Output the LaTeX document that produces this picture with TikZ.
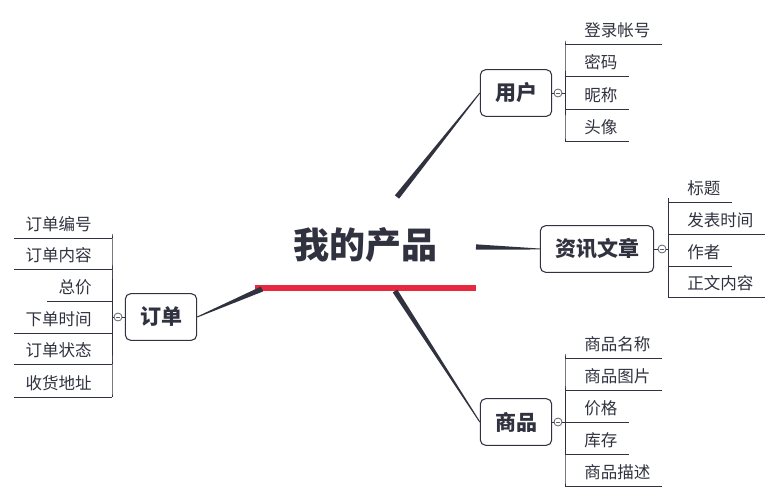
\documentclass[tikz,border=0pt]{standalone}
\usepackage{fontspec}
\setmainfont{Noto Sans CJK SC}
\usetikzlibrary{calc}

\definecolor{ink}{HTML}{30323F}
\definecolor{barred}{HTML}{E8283F}
\definecolor{knobgray}{HTML}{5E606A}

\tikzset{
  topic/.style={draw=ink, line width=0.8pt, rounded corners=4pt, fill=white, text=ink,
    font=\fontsize{15.75}{18}\selectfont\bfseries, minimum height=35pt, inner xsep=11pt},
  leaf/.style={text=ink, font=\fontsize{12.4}{14}\selectfont, inner sep=0pt},
  leafline/.style={draw=ink, line width=0.75pt},
  knob/.style={circle, draw=knobgray, line width=0.6pt, fill=white, minimum size=6pt, inner sep=0pt,
    path picture={\draw[knobgray, line width=0.6pt]
      ([xshift=-1.4pt]path picture bounding box.center) -- ([xshift=1.4pt]path picture bounding box.center);}},
}

% tapered main branch: thick at the centre, thin at the topic
\newcommand{\branchline}[2]{%
  \fill[ink] ($(#1)!2pt!90:(#2)$) -- ($(#2)!0.35pt!-90:(#1)$)
    -- ($(#2)!0.35pt!90:(#1)$) -- ($(#1)!2pt!-90:(#2)$) -- cycle;}

\begin{document}
\begin{tikzpicture}[x=0.75pt, y=-0.75pt]
  \useasboundingbox (0,0) rectangle (781,503);

  % ---------------- central topic ----------------
  \node[text=ink, font=\fontsize{27}{30}\selectfont\bfseries, inner sep=0pt] (prod) at (365,245) {我的产品};
  \fill[barred] (255,285) rectangle (476,291);

  % ---------------- main topics ----------------
  \node[topic] (user)  at (516,93)  {用户};
  \node[topic] (news)  at (597,249) {资讯文章};
  \node[topic] (goods) at (516,422) {商品};
  \node[topic] (order) at (161,317) {订单};

  \coordinate (s-user)  at (397,197);
  \coordinate (s-news)  at (476,247);
  \coordinate (s-goods) at (395,291);
  \coordinate (s-order) at (262,289);
  \branchline{s-user}{user.west}
  \branchline{s-news}{news.west}
  \branchline{s-goods}{goods.west}
  \branchline{s-order}{order.east}

  % collapse knobs
  \node[knob] (user-k)  at (558,93)  {};
  \node[knob] (news-k)  at (662,249) {};
  \node[knob] (goods-k) at (558,422) {};
  \node[knob] (order-k) at (118,317) {};
  \coordinate (user-j)  at (565,93);
  \coordinate (news-j)  at (668,249);
  \coordinate (goods-j) at (565,422);
  \coordinate (order-j) at (112,317);
  \foreach \b in {user, news, goods, order} {
    \draw[leafline] (\b) -- (\b-k);
    \draw[leafline] (\b-k) -- (\b-j);
  }

  % ---------------- 用户 ----------------
  \foreach \t/\y [count=\i] in {登录帐号/45, 密码/77, 昵称/109, 头像/141} {
    \coordinate (user-\i) at (565,\y);
    \node[leaf, anchor=base west] (user-t\i) at (584,\y-8) {\t};
    \draw[leafline] (user-\i) -- ([xshift=8.25pt]user-\i -| user-t\i.east);
    \draw[leafline, rounded corners=3pt] (user-j) |- (user-\i);
  }

  % ---------------- 资讯文章 ----------------
  \foreach \t/\y [count=\i] in {标题/202, 发表时间/234, 作者/266, 正文内容/297} {
    \coordinate (news-\i) at (668,\y);
    \node[leaf, anchor=base west] (news-t\i) at (687,\y-8) {\t};
    \draw[leafline] (news-\i) -- ([xshift=8.25pt]news-\i -| news-t\i.east);
    \draw[leafline, rounded corners=3pt] (news-j) |- (news-\i);
  }

  % ---------------- 商品 ----------------
  \foreach \t/\y [count=\i] in {商品名称/358, 商品图片/390, 价格/422, 库存/454, 商品描述/486} {
    \coordinate (goods-\i) at (565,\y);
    \node[leaf, anchor=base west] (goods-t\i) at (584,\y-8) {\t};
    \draw[leafline] (goods-\i) -- ([xshift=8.25pt]goods-\i -| goods-t\i.east);
    \draw[leafline, rounded corners=3pt] (goods-j) |- (goods-\i);
  }

  % ---------------- 订单 (left side) ----------------
  \foreach \t/\y [count=\i] in {订单编号/238, 订单内容/269, 总价/301, 下单时间/333, 订单状态/364, 收货地址/397} {
    \coordinate (order-\i) at (112,\y);
    \node[leaf, anchor=base east] (order-t\i) at (92,\y-8) {\t};
    \draw[leafline] (order-\i) -- ([xshift=-8.25pt]order-\i -| order-t\i.west);
    \draw[leafline, rounded corners=3pt] (order-j) |- (order-\i);
  }
\end{tikzpicture}
\end{document}
